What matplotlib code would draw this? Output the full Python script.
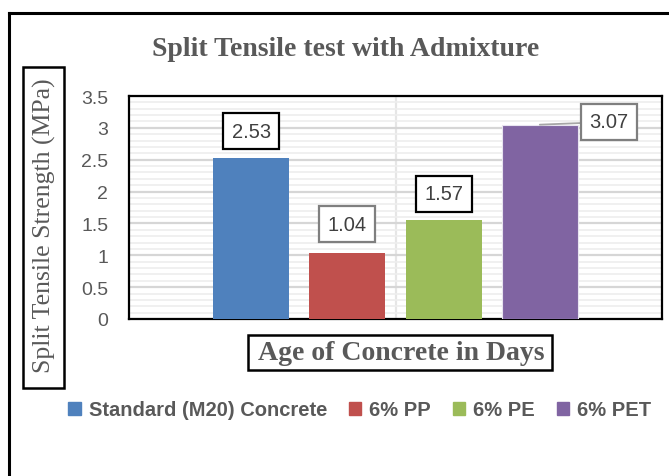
"""Split tensile strength bar chart (Excel-style) with boxed labels."""
import matplotlib

matplotlib.use("Agg")
import matplotlib.pyplot as plt  # noqa: E402
from matplotlib.lines import Line2D  # noqa: E402
from matplotlib.patches import Rectangle, Patch  # noqa: E402

# data
MIXES = ["Standard (M20) Concrete", "6% PP", "6% PE", "6% PET"]
STRENGTH = [2.53, 1.04, 1.57, 3.07]
BAR_TOPS = [2.53, 1.03, 1.56, 3.05]  # drawn heights (labels show STRENGTH)
COLORS = ["#4F81BD", "#C0504D", "#9BBB59", "#8064A2"]
Y_TICKS = [0, 0.5, 1, 1.5, 2, 2.5, 3, 3.5]

TITLE = "Split Tensile test with Admixture"
X_TITLE = "Age of Concrete in Days"
Y_TITLE = "Split Tensile Strength (MPa)"

GREY_TXT = "#595959"
SERIF = ["Liberation Serif", "DejaVu Serif"]
SANS = ["Liberation Sans", "DejaVu Sans"]

W, H = 669, 477
fig = plt.figure(figsize=(W / 100, H / 100), dpi=100)


def fx(px):
    return px / W


def fy(py):
    return 1 - py / H


ax = fig.add_axes([fx(129), fy(320), fx(662) - fx(129), fy(97) - fy(320)])

positions = [-1.5, -0.5, 0.5, 1.5]
bars = ax.bar(positions, BAR_TOPS, width=0.79, color=COLORS, zorder=3)
bars[3].set_edgecolor("#e8e4f0")
bars[3].set_linewidth(0.8)

ax.set_xlim(-2.77, 2.77)
ax.set_ylim(0, 3.5)
ax.set_yticks(Y_TICKS)
ax.set_yticklabels([f"{t:g}" for t in Y_TICKS], fontsize=14,
                   color=GREY_TXT, family=SANS)
ax.set_yticks([i / 10 for i in range(36)], minor=True)
ax.set_xticks([])
ax.tick_params(axis="y", which="both", length=0, pad=15)
ax.grid(axis="y", which="minor", color="#eeeeee", linewidth=1.2, zorder=0)
ax.grid(axis="y", which="major", color="#d6d6d6", linewidth=1.6, zorder=1)
ax.axvline(0, color="#e6e6e6", linewidth=1.6, zorder=1)
for sp in ax.spines.values():
    sp.set_color("black")
    sp.set_linewidth(1.6)

# data labels in boxes
label_offsets = [(0, 19), (0, 21), (0, 18.5), (50, 2)]
label_edges = ["black", "#7f7f7f", "black", "#7f7f7f"]
for x, top, val, off, ec in zip(positions, BAR_TOPS, STRENGTH,
                                label_offsets, label_edges):
    kw = {}
    if off[0]:
        kw["arrowprops"] = dict(arrowstyle="-", color="#a6a6a6", lw=1.3,
                                shrinkA=0, shrinkB=0)
    ax.annotate(f"{val:.2f}", xy=(x, top), xytext=off,
                textcoords="offset points", ha="center", va="center",
                fontsize=14.5, color="#404040", family=SANS, zorder=5,
                bbox=dict(boxstyle="square,pad=0.42", fc="white", ec=ec,
                          lw=1.6), **kw)

# chart title
fig.text(fx(346), fy(50), TITLE, ha="center", va="center", fontsize=20,
         fontweight="bold", color=GREY_TXT, family=SERIF)

# x-axis title in a box
fig.add_artist(Rectangle((fx(248), fy(371)), fx(552) - fx(248),
                         fy(336) - fy(371), transform=fig.transFigure,
                         fill=False, ec="black", lw=1.8))
fig.text(fx(401), fy(354), X_TITLE, ha="center", va="center", fontsize=20,
         fontweight="bold", color=GREY_TXT, family=SERIF)

# y-axis title in a box
fig.add_artist(Rectangle((fx(23), fy(389)), fx(64) - fx(23),
                         fy(68) - fy(389), transform=fig.transFigure,
                         fill=False, ec="black", lw=1.8))
fig.text(fx(44), fy(226), Y_TITLE, ha="center", va="center", rotation=90,
         fontsize=18.5, color=GREY_TXT, family=SERIF)

# legend
handles = [Patch(color=c, label=m) for c, m in zip(COLORS, MIXES)]
fig.legend(handles=handles, loc="center", bbox_to_anchor=(fx(360), fy(411)),
           ncol=4, frameon=False, handlelength=0.6, handleheight=0.6,
           handletextpad=0.4, columnspacing=1.1,
           prop={"family": SANS, "weight": "bold", "size": 14.5})
for t in fig.legends[0].get_texts():
    t.set_color(GREY_TXT)

# outer chart frame (right/bottom cut off in the reference)
fig.add_artist(Line2D([fx(9), fx(9)], [0, fy(14)], transform=fig.transFigure,
                      color="black", lw=2.2))
fig.add_artist(Line2D([fx(9), 1], [fy(14), fy(14)], transform=fig.transFigure,
                      color="black", lw=2.2))

fig.savefig("out.png", dpi=100)
